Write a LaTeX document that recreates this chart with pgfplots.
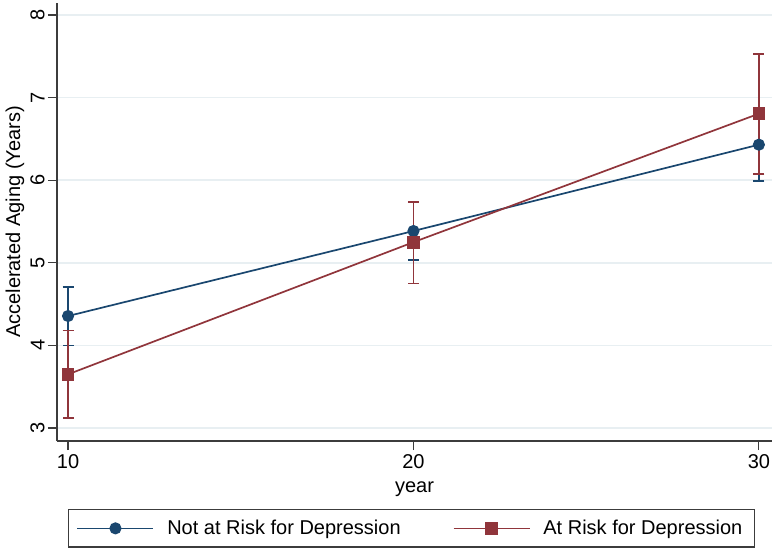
\documentclass[border=0pt]{standalone}
\usepackage{pgfplots}
\pgfplotsset{compat=1.18}
\usepackage{fontspec}
\setmainfont{Liberation Sans}
\definecolor{stblue}{RGB}{26,71,111}
\definecolor{stred}{RGB}{144,53,59}
\definecolor{gridc}{RGB}{232,239,242}
\definecolor{axc}{RGB}{60,60,60}
\begin{document}
\fontsize{10bp}{12bp}\selectfont
\begin{tikzpicture}
\begin{axis}[
    name=ax,
    scale only axis,
    width=357.5bp, height=219bp,
    xmin=9.68, xmax=30.38,
    ymin=2.843, ymax=8.145,
    axis x line*=bottom, axis y line*=left,
    axis line style={axc, line width=0.6bp},
    xtick={10,20,30}, ytick={3,4,5,6,7,8},
    tick align=outside, major tick length=4.5bp,
    tick style={axc, line width=0.6bp},
    yticklabel style={rotate=90, anchor=south, inner sep=1.5bp},
    xticklabel style={inner sep=2bp},
    ymajorgrids, grid style={gridc, line width=0.8bp},
    xlabel={year}, ylabel={Accelerated Aging (Years)},
    xlabel style={yshift=-1bp},
    ylabel style={yshift=-2bp},
    /pgf/number format/assume math mode=true,
    legend columns=2,
    legend style={at={(rel axis cs:0.0154,-0.1553)}, anchor=north west,
        draw=axc, line width=0.6bp, inner xsep=4bp, inner ysep=3bp,
        /tikz/every odd column/.append style={column sep=4.5bp},
        /tikz/every even column/.append style={column sep=24bp},
        cells={anchor=west}},
    legend image code/.code={\draw[mark repeat=2, mark phase=2, #1]
        plot coordinates {(0bp,0bp) (19bp,0bp) (38bp,0bp)};},
]
% confidence intervals first
\addplot[forget plot, draw=none, stblue,
    error bars/.cd, y dir=both, y explicit, error mark=|,
    error mark options={draw=stblue, line width=0.85bp, mark size=2.75bp},
    error bar style={draw=stblue, line width=0.85bp}]
    table[x=x, y=y, y error plus=ep, y error minus=em] {
    x  y     ep    em
    10 4.356 0.354 0.356
    20 5.385 0.345 0.355
    30 6.43  0.44  0.44
    };
\addplot[forget plot, draw=none, stred,
    error bars/.cd, y dir=both, y explicit, error mark=|,
    error mark options={draw=stred, line width=0.85bp, mark size=2.75bp},
    error bar style={draw=stred, line width=0.85bp}]
    table[x=x, y=y, y error plus=ep, y error minus=em] {
    x  y     ep    em
    10 3.65  0.53  0.525
    20 5.25  0.49  0.50
    30 6.805 0.72  0.73
    };
% point estimates
\addplot[stblue, line width=0.85bp, mark=*, mark size=2.6bp,
    mark options={fill=stblue, draw=stblue}]
    coordinates {(10,4.356) (20,5.385) (30,6.43)};
\addlegendentry{Not at Risk for Depression}
\addplot[stred, line width=0.85bp, mark=square*, mark size=2.75bp,
    mark options={fill=stred, draw=stred}]
    coordinates {(10,3.65) (20,5.25) (30,6.805)};
\addlegendentry{At Risk for Depression\hspace{6.5bp}}
\end{axis}
\pgfresetboundingbox
\path[use as bounding box] ([shift={(-28.5bp,-54.5bp)}]ax.south west)
    rectangle ([shift={(2bp,1.5bp)}]ax.north east);
\end{tikzpicture}
\end{document}
